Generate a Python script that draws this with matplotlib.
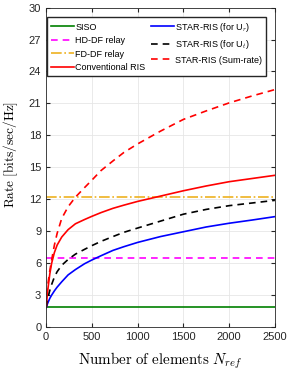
import numpy as np
import matplotlib as mpl
import matplotlib.pyplot as plt

mpl.rcParams['font.family'] = ['Liberation Sans', 'DejaVu Sans']
mpl.rcParams['mathtext.fontset'] = 'cm'

# values
n_elem = [1, 15, 40, 60, 90, 120, 170, 240, 320, 420, 500, 600, 730, 850,
          1000, 1250, 1500, 1750, 2000, 2250, 2500]
rate_siso = [1.84] * len(n_elem)
rate_hd = [6.45] * len(n_elem)
rate_fd = [12.2] * len(n_elem)
rate_ris = [1.85, 3.3, 5.0, 6.0, 7.0, 7.7, 8.45, 9.15, 9.7, 10.1, 10.4, 10.75, 11.15, 11.45,
            11.8, 12.3, 12.8, 13.25, 13.65, 13.95, 14.25]
rate_star_r = [1.85, 2.2, 2.7, 3.0, 3.4, 3.75, 4.25, 4.9, 5.4, 5.95, 6.3, 6.7, 7.2, 7.55,
               7.95, 8.5, 8.95, 9.4, 9.75, 10.05, 10.37]
rate_star_t = [1.85, 2.6, 3.45, 4.0, 4.7, 5.2, 5.8, 6.35, 6.85, 7.3, 7.65, 8.05, 8.5, 8.9,
               9.3, 9.95, 10.6, 11.05, 11.4, 11.65, 11.9]
rate_star_sum = [1.9, 3.8, 5.3, 6.3, 7.7, 8.8, 10.2, 11.3, 12.2, 13.1, 13.8, 14.7, 15.6, 16.4,
                 17.2, 18.4, 19.5, 20.3, 21.05, 21.7, 22.3]

fig = plt.figure(figsize=(2.94, 3.79), dpi=100)
ax = fig.add_axes([0.157, 0.137, 0.778, 0.843])

ax.plot(n_elem, rate_siso, color='#008000', lw=1.2, label='SISO')
ax.plot(n_elem, rate_hd, color='#FF00FF', lw=1.2, ls=(0, (4, 3)), label='HD-DF relay')
ax.plot(n_elem, rate_fd, color='#EDB120', lw=1.2, ls='-.', label='FD-DF relay')
ax.plot(n_elem, rate_ris, color='#FF0000', lw=1.2, label='Conventional RIS')
ax.plot(n_elem, rate_star_r, color='#0000FF', lw=1.2, label='STAR-RIS (for U$_r$)')
ax.plot(n_elem, rate_star_t, color='k', lw=1.2, ls=(0, (4, 3)), label='STAR-RIS (for U$_t$)')
ax.plot(n_elem, rate_star_sum, color='#FF0000', lw=1.2, ls=(0, (4, 3)), label='STAR-RIS (Sum-rate)')

ax.set_xlim(0, 2500)
ax.set_ylim(0, 30)
ax.set_xticks(np.arange(0, 2501, 500))
ax.set_yticks(np.arange(0, 31, 3))
ax.tick_params(direction='in', labelsize=8, length=3, colors='#262626', top=True, right=True)
ax.grid(True, color='#E6E6E6', lw=0.6)
for s in ax.spines.values():
    s.set_color('#262626')
    s.set_linewidth(0.6)

ax.set_xlabel(r'$\mathrm{Number\ of\ elements}\ N_{ref}$', fontsize=10.8, labelpad=6)
ax.set_ylabel(r'$\mathrm{Rate\ [bits/sec/Hz]}$', fontsize=9.6, labelpad=3)
ax.yaxis.set_label_coords(-0.115, 0.54)

ax.legend(ncol=2, loc='upper left', bbox_to_anchor=(0.003, 0.972), borderaxespad=0,
          fontsize=6.5, handlelength=2.6, labelspacing=0.5, columnspacing=0.6,
          handletextpad=0.1, borderpad=0.45, fancybox=False, edgecolor='#262626',
          framealpha=1)

fig.savefig('out.png', dpi=100)
